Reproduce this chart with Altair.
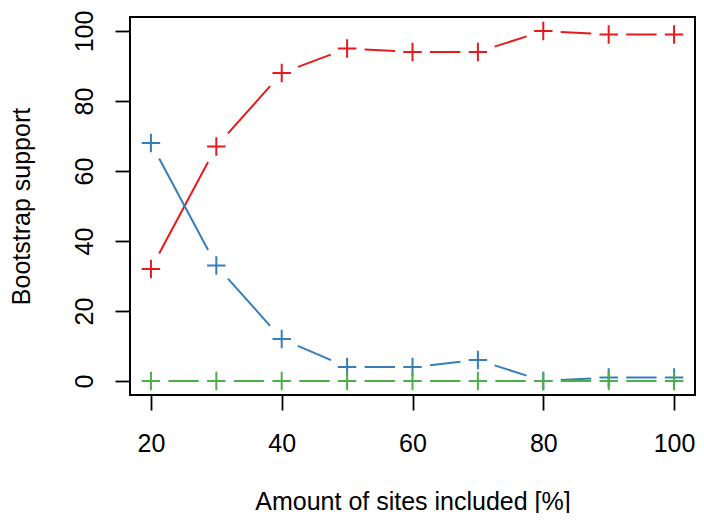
import math
import altair as alt
import pandas as pd

# Values
sites = [20, 30, 40, 50, 60, 70, 80, 90, 100]
red_support = [32, 67, 88, 95, 94, 94, 100, 99, 99]
blue_support = [68, 33, 12, 4, 4, 6, 0, 1, 1]
green_support = [0, 0, 0, 0, 0, 0, 0, 0, 0]
series_names = ["red", "blue", "green"]
series_colors = ["#E41A1C", "#377EB8", "#4DAF4A"]
x_ticks = [20, 40, 60, 80, 100]
y_ticks = [0, 20, 40, 60, 80, 100]

FONT = "Liberation Sans"
FS = 25
W, H = 565, 378
X_DOM = [16.8, 103.2]
Y_DOM = [-4, 104]
GAP = 17.5  # pixel gap left around each point (R's type="b")

series_values = [red_support, blue_support, green_support]

points = []
for k, (name, vals) in enumerate(zip(series_names, series_values)):
    for s, v in zip(sites, vals):
        points.append({"series": name, "sites": s, "support": v, "k": k})
pts = pd.DataFrame(points)

# Line pieces between consecutive points, shortened at each end (as in R's type="b")
sx = W / (X_DOM[1] - X_DOM[0])
sy = H / (Y_DOM[1] - Y_DOM[0])
segs = []
for k, (name, vals) in enumerate(zip(series_names, series_values)):
    for i in range(len(sites) - 1):
        x1, x2 = sites[i], sites[i + 1]
        y1, y2 = vals[i], vals[i + 1]
        L = math.hypot((x2 - x1) * sx, (y2 - y1) * sy)
        if L <= 2 * GAP:
            continue
        t = GAP / L
        segs.append({
            "series": name, "k": k,
            "xa": x1 + t * (x2 - x1), "ya": y1 + t * (y2 - y1),
            "xb": x2 - t * (x2 - x1), "yb": y2 - t * (y2 - y1),
        })
segdf = pd.DataFrame(segs)

x_axis = alt.Axis(
    values=x_ticks, title="Amount of sites included [%]", grid=False, domain=False,
    tickColor="black", tickSize=15, tickWidth=1.8, labelPadding=21,
    labelFont=FONT, labelFontSize=FS, labelColor="black",
    titleFont=FONT, titleFontSize=FS, titleFontWeight="normal", titleColor="black",
    titleBaseline="alphabetic", titleY=114, titleX=W / 2,
)
y_axis = alt.Axis(
    values=y_ticks, title="Bootstrap support", grid=False, domain=False,
    tickColor="black", tickSize=15, tickWidth=1.8, labelPadding=23,
    labelAngle=270, labelAlign="center", labelBaseline="alphabetic",
    labelFont=FONT, labelFontSize=FS, labelColor="black",
    titleFont=FONT, titleFontSize=FS, titleFontWeight="normal", titleColor="black",
    titleAngle=270, titleBaseline="alphabetic", titleAlign="center",
    titleX=-101, titleY=H / 2,
)
xs = alt.Scale(domain=X_DOM, nice=False, zero=False)
ys = alt.Scale(domain=Y_DOM, nice=False, zero=False)
color = alt.Color("series:N", scale=alt.Scale(domain=series_names, range=series_colors), legend=None)

lines = alt.Chart(segdf).mark_rule(strokeWidth=2).encode(
    x=alt.X("xa:Q", scale=xs, axis=x_axis),
    y=alt.Y("ya:Q", scale=ys, axis=y_axis),
    x2="xb:Q", y2="yb:Q",
    color=color,
    order="k:Q",
)
plus = alt.Chart(pts).mark_point(
    shape="M-1,0L1,0M0,-1L0,1", filled=False, size=340, strokeWidth=2, opacity=1
).encode(
    x=alt.X("sites:Q", scale=xs, axis=x_axis),
    y=alt.Y("support:Q", scale=ys, axis=y_axis),
    color=color,
    order="k:Q",
)

chart = alt.layer(lines, plus).properties(
    width=W, height=H,
    autosize=alt.AutoSizeParams(type="none"),
    padding={"left": 122, "top": 9, "right": 1, "bottom": 118},
    background="white",
).configure_view(stroke="black", strokeWidth=2)

chart.save("out.html", embed_options={"renderer": "svg", "actions": False})
